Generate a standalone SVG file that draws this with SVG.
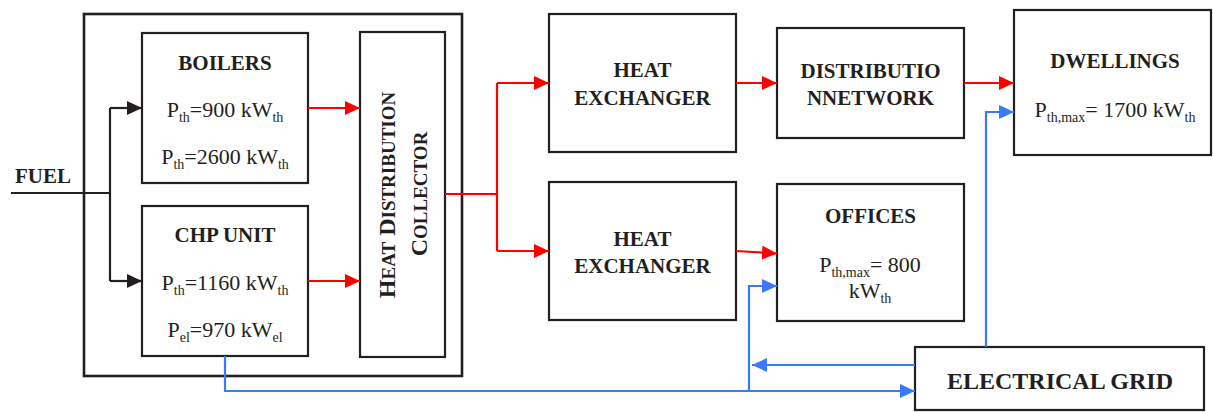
<svg xmlns="http://www.w3.org/2000/svg" width="1213" height="412" viewBox="0 0 1213 412">
<defs>
<style>
.box{fill:#fff;stroke:#231f20;stroke-width:2.2}
.t{font-family:"Liberation Serif","Times New Roman",serif;fill:#231f20;text-anchor:middle}
.b{font-weight:bold;font-size:21px}
.r{font-size:22px}
.sub{font-size:14px}
.blk{fill:none;stroke:#231f20;stroke-width:2.2}
.red{fill:none;stroke:#ff0000;stroke-width:2.2}
.blu{fill:none;stroke:#3a78ff;stroke-width:2.2}
</style>
<marker id="ak" markerUnits="userSpaceOnUse" markerWidth="15" markerHeight="14" viewBox="0 0 15 14" refX="15" refY="7" orient="auto"><path d="M0,0 L15,7 L0,14 z" fill="#231f20"/></marker>
<marker id="ar" markerUnits="userSpaceOnUse" markerWidth="15" markerHeight="14" viewBox="0 0 15 14" refX="15" refY="7" orient="auto"><path d="M0,0 L15,7 L0,14 z" fill="#ff0000"/></marker>
<marker id="ab" markerUnits="userSpaceOnUse" markerWidth="15" markerHeight="14" viewBox="0 0 15 14" refX="15" refY="7" orient="auto"><path d="M0,0 L15,7 L0,14 z" fill="#3a78ff"/></marker>
</defs>
<rect width="1213" height="412" fill="#fff"/>

<g id="plant">
<rect class="box" x="84" y="14" width="378" height="362" style="fill:none;stroke-width:2.6"/>
</g>

<g id="fuel">
<text class="t b" x="15" y="183" style="text-anchor:start">FUEL</text>
</g>

<g id="boilers">
<rect class="box" x="142" y="33" width="166" height="150"/>
<text class="t b" x="225" y="70">BOILERS</text>
<text class="t r" x="225" y="117">P<tspan class="sub" dy="5">th</tspan><tspan dy="-5">=900 kW</tspan><tspan class="sub" dy="5">th</tspan></text>
<text class="t r" x="225" y="164">P<tspan class="sub" dy="5">th</tspan><tspan dy="-5">=2600 kW</tspan><tspan class="sub" dy="5">th</tspan></text>
</g>

<g id="chp">
<rect class="box" x="142" y="206" width="166" height="150"/>
<text class="t b" x="225" y="242">CHP UNIT</text>
<text class="t r" x="225" y="290">P<tspan class="sub" dy="5">th</tspan><tspan dy="-5">=1160 kW</tspan><tspan class="sub" dy="5">th</tspan></text>
<text class="t r" x="225" y="337">P<tspan class="sub" dy="5">el</tspan><tspan dy="-5">=970 kW</tspan><tspan class="sub" dy="5">el</tspan></text>
</g>

<g id="collector">
<rect class="box" x="360" y="32" width="85" height="325"/>
<text class="t" font-weight="bold" font-size="24" transform="translate(395,195) rotate(-90)">H<tspan font-size="19">EAT</tspan> D<tspan font-size="19">ISTRIBUTION</tspan></text>
<text class="t" font-weight="bold" font-size="24" transform="translate(427,194) rotate(-90)">C<tspan font-size="19">OLLECTOR</tspan></text>
</g>

<g id="hx1">
<rect class="box" x="549" y="14" width="187" height="138"/>
<text class="t b" x="642.5" y="77">HEAT</text>
<text class="t b" x="642.5" y="105">EXCHANGER</text>
</g>

<g id="hx2">
<rect class="box" x="549" y="182" width="187" height="138"/>
<text class="t b" x="642.5" y="246">HEAT</text>
<text class="t b" x="642.5" y="273">EXCHANGER</text>
</g>

<g id="network">
<rect class="box" x="777" y="28" width="187" height="110"/>
<text class="t b" x="870.5" y="78">DISTRIBUTIO</text>
<text class="t b" x="870.5" y="105">NNETWORK</text>
</g>

<g id="offices">
<rect class="box" x="777" y="184" width="187" height="137"/>
<text class="t b" x="870.5" y="223">OFFICES</text>
<text class="t r" x="870" y="272">P<tspan class="sub" dy="5">th,max</tspan><tspan dy="-5">= 800</tspan></text>
<text class="t r" x="870" y="298">kW<tspan class="sub" dy="5">th</tspan></text>
</g>

<g id="dwellings">
<rect class="box" x="1014" y="10" width="197" height="145"/>
<text class="t b" x="1115" y="68">DWELLINGS</text>
<text class="t r" x="1115" y="117">P<tspan class="sub" dy="5">th,max</tspan><tspan dy="-5">= 1700 kW</tspan><tspan class="sub" dy="5">th</tspan></text>
</g>

<g id="grid">
<rect class="box" x="915" y="347" width="289" height="63"/>
<text class="t" font-weight="bold" font-size="24" x="1060" y="389">ELECTRICAL GRID</text>
</g>

<g id="connectors">
<path class="blk" d="M11,193 H110"/>
<path class="blk" d="M110,108 V281"/>
<path class="blk" d="M110,108 H142" marker-end="url(#ak)"/>
<path class="blk" d="M110,281 H142" marker-end="url(#ak)"/>
<path class="red" d="M308,108 H360" marker-end="url(#ar)"/>
<path class="red" d="M308,281 H360" marker-end="url(#ar)"/>
<path class="red" d="M445,194 H497"/>
<path class="red" d="M497,83 V251"/>
<path class="red" d="M497,83 H549" marker-end="url(#ar)"/>
<path class="red" d="M497,251 H549" marker-end="url(#ar)"/>
<path class="red" d="M736,83 H777" marker-end="url(#ar)"/>
<path class="red" d="M736,251 L777,253.5" marker-end="url(#ar)"/>
<path class="red" d="M964,83 H1014" marker-end="url(#ar)"/>
<path class="blu" d="M225,356 V391 H915" marker-end="url(#ab)"/>
<path class="blu" d="M915,365 H752" marker-end="url(#ab)"/>
<path class="blu" d="M749,391 V286 H777" marker-end="url(#ab)"/>
<path class="blu" d="M986,347 V112 H1014" marker-end="url(#ab)"/>
</g>
</svg>
